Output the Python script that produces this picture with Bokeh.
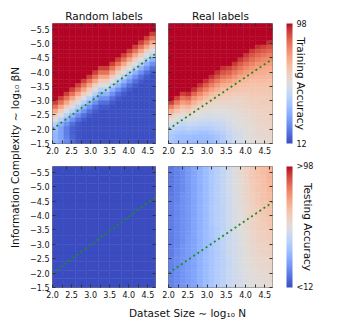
import math
import numpy as np
from bokeh.plotting import figure
from bokeh.models import (ColumnDataSource, LinearColorMapper, ColorBar, FixedTicker,
                          LinearAxis, CustomJSTickFormatter, Range1d, Label)
from bokeh.layouts import row, column
from bokeh.transform import transform
from bokeh.embed import file_html
from bokeh.resources import INLINE

# ---------------- data ----------------
col_titles = ["Random labels", "Real labels"]
cbar_titles = ["Training Accuracy", "Testing Accuracy"]
x_label = "Dataset Size \u223c log\u2081\u2080 N"
y_label = "Information Complexity \u223c log\u2081\u2080 \u03b2N"

# fine grid (cell centres), each grid below is a list of columns (top -> bottom)
x_fine = [2.075, 2.225, 2.375, 2.525, 2.675, 2.825, 2.975, 3.125, 3.275,
          3.425, 3.575, 3.725, 3.875, 4.025, 4.175, 4.325, 4.475, 4.625]
y_fine = [-5.625, -5.475, -5.325, -5.175, -5.025, -4.875, -4.725, -4.575, -4.425,
          -4.275, -4.125, -3.975, -3.825, -3.675, -3.525, -3.375, -3.225, -3.075,
          -2.925, -2.775, -2.625, -2.475, -2.325, -2.175, -2.025, -1.875, -1.725, -1.575]
fine_cell = 0.15
# coarse grid used for the flat panel
x_coarse = [2.15, 2.45, 2.75, 3.05, 3.35, 3.65, 3.95, 4.25, 4.55]
y_coarse = [-5.55, -5.25, -4.95, -4.65, -4.35, -4.05, -3.75, -3.45,
            -3.15, -2.85, -2.55, -2.25, -1.95, -1.65]
coarse_cell = 0.3

x_ticks = [2.0, 2.5, 3.0, 3.5, 4.0, 4.5]
x_minor = [2.25, 2.75, 3.25, 3.75, 4.25]
x_top_ticks = [2.375, 2.75, 3.125, 3.5, 3.875, 4.25, 4.625]
y_ticks = [-5.5, -5.0, -4.5, -4.0, -3.5, -3.0, -2.5, -2.0, -1.5]
cbar_ticks = [12, 98]

# training accuracy, random labels
train_random = [
    [98,98,98,98,98,98,98,98,98,98,98,98,98,98,98,98,98,98,92,84,74,63,54,44,38,36,35,35],
    [98,98,98,98,98,98,98,98,98,98,98,98,98,98,98,98,98,92,84,74,63,54,44,34,30,30,30,31],
    [98,98,98,98,98,98,98,98,98,98,98,98,98,98,98,98,92,84,74,63,54,44,34,26,22,22,23,24],
    [98,98,98,98,98,98,98,98,98,98,98,98,98,98,98,92,84,74,63,54,44,34,26,19,16,16,17,18],
    [98,98,98,98,98,98,98,98,98,98,98,98,98,98,92,84,74,63,54,44,34,26,19,15,14,14,14,14],
    [98,98,98,98,98,98,98,98,98,98,98,98,98,92,84,74,63,54,44,34,26,19,15,13,13,13,13,13],
    [98,98,98,98,98,98,98,98,98,98,98,98,92,84,74,63,54,44,34,26,19,15,13,13,13,13,13,13],
    [98,98,98,98,98,98,98,98,98,98,98,92,84,74,63,54,44,34,26,19,15,13,13,13,13,13,13,13],
    [98,98,98,98,98,98,98,98,98,98,92,84,74,63,54,44,34,26,19,15,13,13,13,13,13,13,13,13],
    [98,98,98,98,98,98,98,98,98,98,92,84,74,63,54,44,34,26,19,15,13,13,13,13,13,13,13,13],
    [98,98,98,98,98,98,98,98,98,92,84,74,63,54,44,34,26,19,15,13,13,13,13,13,13,13,13,13],
    [98,98,98,98,98,98,98,98,92,84,74,63,54,44,34,26,19,15,13,13,13,13,13,13,13,13,13,13],
    [98,98,98,98,98,98,98,92,84,74,63,54,44,34,26,19,15,13,13,13,13,13,13,13,13,13,13,13],
    [98,98,98,98,98,98,92,84,74,63,54,44,34,26,19,15,13,13,13,13,13,13,13,13,13,13,13,13],
    [98,98,98,98,98,92,84,74,63,54,44,34,26,19,15,13,13,13,13,13,13,13,13,13,13,13,13,13],
    [98,98,98,98,92,84,74,63,54,44,34,26,19,15,13,13,13,13,13,13,13,13,13,13,13,13,13,13],
    [98,98,98,92,84,74,63,54,44,34,26,19,15,13,13,13,13,13,13,13,13,13,13,13,13,13,13,13],
    [98,98,92,84,74,63,54,44,34,26,19,15,13,13,13,13,13,13,13,13,13,13,13,13,13,13,13,13],
]
# training accuracy, real labels
train_real = [
    [98,98,98,98,98,98,98,98,98,98,98,98,98,98,98,98,98,98,92,82,72,64,57,52,47,43,41,40],
    [98,98,98,98,98,98,98,98,98,98,98,98,98,98,98,98,98,92,83,74,66,59,54,49,45,41,39,38],
    [98,98,98,98,98,98,98,98,98,98,98,98,98,98,98,98,92,84,76,68,61,56,51,47,43,40,38,37],
    [98,98,98,98,98,98,98,98,98,98,98,98,98,98,98,98,94,86,78,70,63,58,53,49,45,41,38,36],
    [98,98,98,98,98,98,98,98,98,98,98,98,98,98,98,94,86,78,71,64,59,55,52,48,44,40,37,36],
    [98,98,98,98,98,98,98,98,98,98,98,98,98,98,94,87,80,73,66,61,57,54,51,47,43,39,37,36],
    [98,98,98,98,98,98,98,98,98,98,98,98,98,94,88,81,74,68,63,59,56,53,50,47,43,39,37,36],
    [98,98,98,98,98,98,98,98,98,98,98,98,94,88,82,75,69,65,61,58,55,53,50,47,44,41,38,37],
    [98,98,98,98,98,98,98,98,98,98,98,94,89,83,77,71,66,63,60,57,55,53,51,48,46,43,40,39],
    [98,98,98,98,98,98,98,98,98,98,94,89,84,78,72,68,65,62,59,57,55,53,51,49,47,45,43,42],
    [98,98,98,98,98,98,98,98,98,98,92,87,82,76,71,67,64,62,60,58,56,55,53,52,50,48,47,46],
    [98,98,98,98,98,98,98,98,98,93,88,83,78,73,69,66,63,61,59,58,57,56,55,54,52,51,50,49],
    [98,98,98,98,98,98,98,98,93,88,84,79,74,70,67,65,63,61,60,59,58,57,56,55,54,53,52,52],
    [98,98,98,98,98,98,98,93,89,84,80,76,72,69,67,65,63,62,61,60,59,58,57,57,56,55,55,54],
    [98,98,98,98,98,98,93,89,85,81,77,74,71,68,66,65,64,63,62,61,60,59,59,58,57,57,56,56],
    [98,98,98,98,98,94,90,86,82,78,75,72,70,68,66,65,64,63,62,62,61,60,60,59,59,58,58,57],
    [98,98,98,98,98,92,88,84,80,77,74,72,70,68,66,65,64,63,63,62,61,61,60,60,59,59,58,58],
    [98,98,98,98,94,90,86,82,79,76,73,71,69,67,66,65,64,63,63,62,62,61,61,60,60,59,59,58],
]
# testing accuracy, random labels (coarse grid, flat)
test_random = [
    [10,10,10,10,10,10,10,10,10,10,10,10,10,10],
    [10,10,10,10,10,10,10,10,10,10,10,10,10,10],
    [10,10,10,10,10,10,10,10,10,10,10,10,10,10],
    [10,10,10,10,10,10,10,10,10,10,10,10,10,10],
    [10,10,10,10,10,10,10,10,10,10,10,10,10,10],
    [10,10,10,10,10,10,10,10,10,10,10,10,10,10],
    [10,10,10,10,10,10,10,10,10,10,10,10,10,10],
    [10,10,10,10,10,10,10,10,10,10,10,10,10,10],
    [10,10,10,10,10,10,10,10,10,10,10,10,10,10],
]
# testing accuracy, real labels
test_real = [
    [21,21,21,21,21,21,21,22,22,22,22,22,22,22,22,22,22,22,22,22,22,23,23,23,23,23,23,23],
    [23,23,23,23,23,23,23,23,24,24,24,24,24,24,24,24,24,24,24,25,25,25,25,25,25,25,25,25],
    [25,25,25,25,25,25,26,26,26,26,26,26,26,26,26,26,26,26,27,27,27,27,27,27,27,27,27,27],
    [28,28,28,28,28,28,28,28,28,28,28,28,28,28,28,28,29,29,29,29,29,29,29,29,29,29,29,29],
    [31,31,31,31,31,31,31,31,31,31,31,31,31,31,31,31,31,31,31,31,31,31,31,31,31,31,31,31],
    [34,34,34,34,34,34,34,34,34,34,34,34,34,34,34,34,34,34,34,34,34,34,34,34,34,34,34,34],
    [37,37,37,37,37,37,37,37,37,37,37,37,37,37,37,37,37,37,37,37,37,37,37,37,37,37,37,37],
    [41,41,41,41,41,41,41,41,41,41,41,41,41,41,40,40,40,40,40,40,40,40,40,40,40,40,40,40],
    [44,44,44,44,44,44,44,44,44,44,44,44,44,44,43,43,43,43,43,43,43,43,43,43,43,43,43,43],
    [47,47,47,47,47,47,47,47,47,46,46,46,46,46,46,46,46,46,46,45,45,45,45,45,45,45,45,45],
    [51,51,51,51,51,51,51,50,50,50,50,50,50,50,49,49,49,49,49,49,49,48,48,48,48,48,48,48],
    [54,54,54,54,54,54,53,53,53,53,53,53,52,52,52,52,52,51,51,51,51,51,51,50,50,50,50,50],
    [58,58,58,57,57,57,57,56,56,56,56,55,55,55,55,54,54,54,54,53,53,53,53,53,52,52,52,52],
    [61,61,61,60,60,60,60,59,59,59,59,58,58,58,58,57,57,57,57,56,56,56,55,55,55,54,54,54],
    [64,64,64,63,63,63,62,62,62,61,61,61,60,60,60,59,59,59,58,58,58,57,57,57,56,56,55,55],
    [66,66,66,65,65,65,64,64,64,63,63,63,62,62,62,61,61,61,60,60,59,59,58,58,57,57,56,56],
    [68,68,67,67,67,66,66,66,65,65,65,64,64,63,63,62,62,61,61,60,60,59,59,58,58,57,57,57],
    [70,70,70,69,69,69,68,68,67,67,66,66,65,65,64,63,63,62,62,61,61,60,60,59,59,58,58,57],
]

line_x = [2.0, 4.7]
line_y_random = [-2.0, -4.64]
line_y_real = [-2.0, -4.46]

# coolwarm colormap anchors
coolwarm_anchors = [
    (59, 76, 192), (68, 90, 204), (77, 104, 215), (87, 117, 225), (98, 130, 234),
    (108, 142, 241), (119, 154, 247), (130, 165, 251), (141, 176, 254), (152, 185, 255),
    (163, 194, 255), (174, 201, 253), (184, 208, 249), (194, 213, 244), (204, 217, 238),
    (213, 219, 230), (221, 221, 221), (229, 216, 209), (236, 211, 197), (241, 204, 185),
    (245, 196, 173), (247, 187, 160), (247, 177, 148), (247, 166, 135), (244, 154, 123),
    (241, 141, 111), (236, 127, 99), (229, 112, 88), (222, 96, 77), (213, 80, 66),
    (203, 62, 56), (192, 40, 47), (180, 4, 38),
]

def build_palette(anchors, n=256):
    arr = np.array(anchors, dtype=float)
    pos = np.linspace(0, 1, len(arr))
    t = np.linspace(0, 1, n)
    chans = [np.interp(t, pos, arr[:, k]) for k in range(3)]
    return ["#%02x%02x%02x" % (int(round(r)), int(round(g)), int(round(b)))
            for r, g, b in zip(*chans)]

palette = build_palette(coolwarm_anchors)
mapper = LinearColorMapper(palette=palette, low=12, high=98,
                           low_color=palette[0], high_color=palette[-1])

FONT = "DejaVu Sans"
TXT = "#111111"

def grid_source(grid, xs, ys, cell):
    left, right, top, bottom, v = [], [], [], [], []
    h = cell / 2
    for xi, col in enumerate(grid):
        for yi, val in enumerate(col):
            left.append(xs[xi] - h); right.append(xs[xi] + h)
            top.append(ys[yi] - h); bottom.append(ys[yi] + h)
            v.append(val)
    return ColumnDataSource(dict(left=left, right=right, top=top, bottom=bottom, v=v))

def empty_fmt():
    return CustomJSTickFormatter(code="return ''")

def panel(src, line_y, fw, fh, title, show_ylab, borders, cbar=None):
    bl, br, bt, bb = borders
    p = figure(frame_width=fw, frame_height=fh, x_range=Range1d(2.0, 4.7),
               y_range=Range1d(-1.5, -5.7), output_backend="svg", toolbar_location=None,
               title=title, min_border_left=bl, min_border_right=br,
               min_border_top=bt, min_border_bottom=bb)
    p.quad(left="left", right="right", top="top", bottom="bottom", source=src,
           fill_color=transform("v", mapper), line_color=transform("v", mapper), line_width=0.5)
    p.line(line_x, line_y, line_color="#1e8c1e", line_width=1.8, line_dash="2 3")
    p.grid.visible = False
    p.outline_line_color = "#7a7a7a"
    p.outline_line_width = 1
    p.background_fill_color = "white"
    p.border_fill_color = "white"
    if title is not None:
        p.title.text_font = FONT
        p.title.text_font_size = "10.5px"
        p.title.text_font_style = "normal"
        p.title.text_color = TXT
        p.title.align = "center"
        p.title.standoff = 3
        p.title.offset = 0
    xa = p.xaxis[0]
    xa.ticker = FixedTicker(ticks=x_ticks, minor_ticks=x_minor)
    xa.formatter = CustomJSTickFormatter(code="return tick.toFixed(1)")
    ya = p.yaxis[0]
    ya.ticker = FixedTicker(ticks=y_ticks)
    if show_ylab:
        ya.formatter = CustomJSTickFormatter(code="return tick.toFixed(1).replace('-', '\u2212')")
    else:
        ya.formatter = empty_fmt()
    for ax in (xa, ya):
        ax.axis_line_color = None
        ax.major_tick_in = 3
        ax.major_tick_out = 0
        ax.minor_tick_in = 3
        ax.minor_tick_out = 0
        ax.major_tick_line_color = "#333333"
        ax.minor_tick_line_color = "#333333"
        ax.major_label_text_font = FONT
        ax.major_label_text_font_size = "8px"
        ax.major_label_text_color = TXT
        ax.major_label_standoff = 3
    top_ax = LinearAxis(ticker=FixedTicker(ticks=x_top_ticks), formatter=empty_fmt(),
                        axis_line_color=None, major_tick_in=3, major_tick_out=0,
                        major_tick_line_color="#333333", major_label_standoff=0)
    p.add_layout(top_ax, "above")
    right_ax = LinearAxis(ticker=FixedTicker(ticks=y_ticks), formatter=empty_fmt(),
                          axis_line_color=None, major_tick_in=3, major_tick_out=0,
                          major_tick_line_color="#333333", major_label_standoff=0)
    if cbar is not None:
        right_ax.axis_label = " "
        right_ax.axis_label_text_font_size = "1px"
        right_ax.axis_label_standoff = 10
    p.add_layout(right_ax, "right")
    if cbar is not None:
        overrides, ctitle = cbar
        cb = ColorBar(color_mapper=mapper, ticker=FixedTicker(ticks=cbar_ticks),
                      major_label_overrides=overrides, width=6, margin=0, padding=0,
                      major_tick_line_color=None, bar_line_color=None, label_standoff=4,
                      major_label_text_font=FONT, major_label_text_font_size="8px",
                      major_label_text_color=TXT, background_fill_alpha=0,
                      border_line_color=None)
        p.add_layout(cb, "right")
        title_ax = LinearAxis(ticker=FixedTicker(ticks=[]), formatter=empty_fmt(),
                              axis_line_color=None, major_tick_line_color=None,
                              minor_tick_line_color=None, major_tick_in=0, major_tick_out=0,
                              minor_tick_in=0, minor_tick_out=0, major_label_standoff=0,
                              axis_label=ctitle, axis_label_standoff=-15,
                              axis_label_text_font=FONT, axis_label_text_font_size="10.5px",
                              axis_label_text_font_style="normal",
                              axis_label_text_color=TXT)
        p.add_layout(title_ax, "right")
    return p

src_tr = grid_source(train_random, x_fine, y_fine, fine_cell)
src_tl = grid_source(train_real, x_fine, y_fine, fine_cell)
src_sr = grid_source(test_random, x_coarse, y_coarse, coarse_cell)
src_sl = grid_source(test_real, x_fine, y_fine, fine_cell)

p11 = panel(src_tr, line_y_random, 103, 120, col_titles[0], True, (28, 6, 23, 15))
p12 = panel(src_tl, line_y_real, 104, 120, col_titles[1], False, (7, 50, 23, 15),
            cbar=({}, cbar_titles[0]))
p21 = panel(src_sr, line_y_random, 103, 121, None, True, (28, 6, 8, 15))
p22 = panel(src_sl, line_y_real, 104, 121, None, False, (7, 50, 8, 15),
            cbar=({12: "<12", 98: ">98"}, cbar_titles[1]))

def label_fig(w, h, text, x, y, angle):
    f = figure(width=w, height=h, x_range=Range1d(0, w), y_range=Range1d(0, h),
               output_backend="svg", toolbar_location=None, min_border=0,
               min_border_left=0, min_border_right=0, min_border_top=0, min_border_bottom=0,
               x_axis_location=None, y_axis_location=None)
    f.outline_line_color = None
    f.grid.visible = False
    f.add_layout(Label(x=x, y=y, text=text, angle=angle, text_align="center",
                       text_baseline="middle", text_font=FONT, text_font_size="10.5px",
                       text_color=TXT))
    return f

ylab = label_fig(24, 322, y_label, 14, 165, math.pi / 2)
xlab = label_fig(298, 20, x_label, 163, 10, 0)

layout = row(ylab, column(row(p11, p12), row(p21, p22), xlab))

open("out.html", "w").write(file_html(layout, INLINE))
